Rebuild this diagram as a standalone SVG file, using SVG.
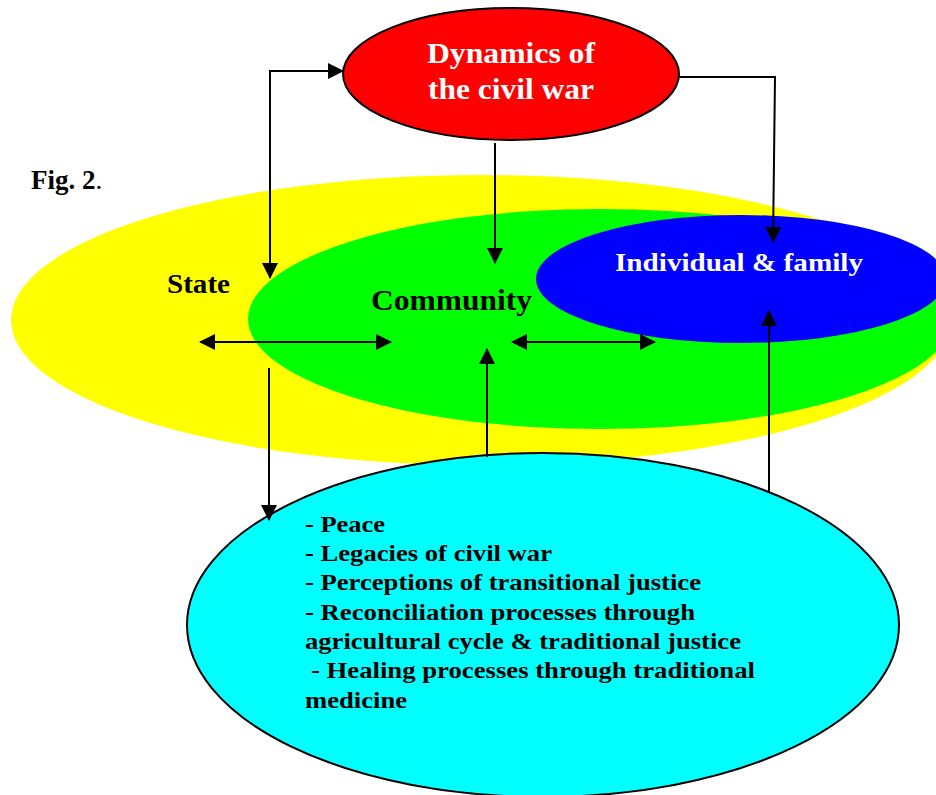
<svg xmlns="http://www.w3.org/2000/svg" width="936" height="795" viewBox="0 0 936 795">
<defs>
<style>
.t{font-family:"Liberation Serif","Times New Roman",serif;font-weight:bold}
.w{fill:#ffffff}
.k{fill:#000000}
.c{stroke:#000;stroke-width:2;fill:none}
</style>
<marker id="ah" viewBox="0 0 16 16" refX="15" refY="8" markerWidth="16" markerHeight="16" markerUnits="userSpaceOnUse" orient="auto-start-reverse">
<path d="M0,0 L16,8 L0,16 Z" fill="#000"/>
</marker>
</defs>
<rect width="936" height="795" fill="#ffffff"/>
<text class="t k" x="31" y="189" font-size="27">Fig. 2<tspan font-weight="normal">.</tspan></text>
<g id="state">
<ellipse cx="481" cy="320" rx="470" ry="145" fill="#ffff00"/>
<text class="t k" x="167" y="293" font-size="27" textLength="63" lengthAdjust="spacingAndGlyphs">State</text>
</g>
<g id="community">
<ellipse cx="600" cy="319" rx="352" ry="110" fill="#00ff00"/>
<text class="t k" x="371" y="310" font-size="29" textLength="161" lengthAdjust="spacingAndGlyphs">Community</text>
</g>
<g id="individual">
<ellipse cx="741" cy="279" rx="205" ry="64" fill="#0000ff"/>
<text class="t w" x="615" y="271" font-size="26" textLength="248" lengthAdjust="spacingAndGlyphs">Individual &amp; family</text>
</g>
<g id="dynamics">
<ellipse cx="511" cy="74" rx="168" ry="66" fill="#ff0000" stroke="#000" stroke-width="2"/>
<text class="t w" x="427" y="63" font-size="30" textLength="168" lengthAdjust="spacingAndGlyphs">Dynamics of</text>
<text class="t w" x="428" y="99" font-size="30" textLength="166" lengthAdjust="spacingAndGlyphs">the civil war</text>
</g>
<g id="themes">
<ellipse cx="543" cy="625" rx="356" ry="172" fill="#00ffff" stroke="#000" stroke-width="2"/>
<g class="t k" font-size="24">
<text x="305" y="532" textLength="80" lengthAdjust="spacingAndGlyphs">- Peace</text>
<text x="305" y="561" textLength="247" lengthAdjust="spacingAndGlyphs">- Legacies of civil war</text>
<text x="305" y="590" textLength="396" lengthAdjust="spacingAndGlyphs">- Perceptions of transitional justice</text>
<text x="305" y="620" textLength="390" lengthAdjust="spacingAndGlyphs">- Reconciliation processes through</text>
<text x="305" y="649" textLength="436" lengthAdjust="spacingAndGlyphs">agricultural cycle &amp; traditional justice</text>
<text x="311" y="678" textLength="444" lengthAdjust="spacingAndGlyphs">- Healing processes through traditional</text>
<text x="305" y="708" textLength="102" lengthAdjust="spacingAndGlyphs">medicine</text>
</g>
</g>
<g id="connectors" class="c">
<path d="M270,278 L270,71 L343,71" marker-start="url(#ah)" marker-end="url(#ah)"/>
<path d="M679,77 L775,77 L773,242" marker-end="url(#ah)"/>
<path d="M495,143 L495,263" marker-end="url(#ah)"/>
<path d="M200,342 L391,342" marker-start="url(#ah)" marker-end="url(#ah)"/>
<path d="M512,342 L655,342" marker-start="url(#ah)" marker-end="url(#ah)"/>
<path d="M269,368 L269,520" marker-end="url(#ah)"/>
<path d="M487,457 L487,349" marker-end="url(#ah)"/>
<path d="M769,492 L769,311" marker-end="url(#ah)"/>
</g>
</svg>
